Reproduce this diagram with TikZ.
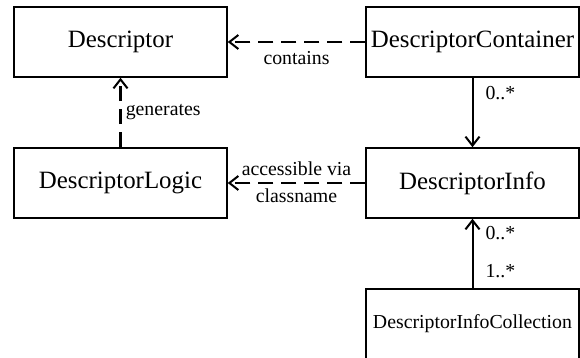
\documentclass[tikz,border=0pt]{standalone}
\usepackage{fontspec}
\setmainfont{Liberation Serif}
\usetikzlibrary{arrows.meta}
\begin{document}
\begin{tikzpicture}[x=0.5pt,y=-0.5pt,
  classbox/.style={draw,line width=0.75pt,minimum width=106.5pt,minimum height=35pt,
    inner sep=0pt,font=\fontsize{12.45}{14}\selectfont},
  smallbox/.style={classbox,font=\fontsize{9.9}{12}\selectfont},
  lbl/.style={font=\fontsize{9.9}{12}\selectfont,inner sep=2pt},
  conn/.style={line width=1pt,-{Straight Barb[length=4.5pt,width=7pt,line width=1pt]}},
  dep/.style={conn,line width=1.3pt,dash pattern=on 7.5pt off 4pt}]
\useasboundingbox (0,0) rectangle (580,358);
\node[classbox] (desc) at (120.5,42) {Descriptor};
\node[classbox] (cont) at (472.5,42) {DescriptorContainer};
\node[classbox] (logic) at (120.5,183) {DescriptorLogic};
\node[classbox] (info) at (472.5,183) {DescriptorInfo};
\node[smallbox] (coll) at (472.5,324) {DescriptorInfoCollection};
% dependencies
\draw[dep] (cont) -- node[lbl,below,yshift=-2pt] {contains} (desc);
\draw[dep] (logic) -- node[lbl,right] {generates} (desc);
\draw[dep] (info) -- node[lbl,above,yshift=1pt] {accessible via}
  node[lbl,below] {classname} (logic);
% associations
\draw[conn] (cont) -- node[lbl,pos=0.22,right,xshift=4pt] {0..*} (info);
\draw[conn] (coll) -- node[lbl,pos=0.24,right,xshift=4pt] {1..*}
  node[lbl,pos=0.8,right,xshift=4pt] {0..*} (info);
\end{tikzpicture}
\end{document}
